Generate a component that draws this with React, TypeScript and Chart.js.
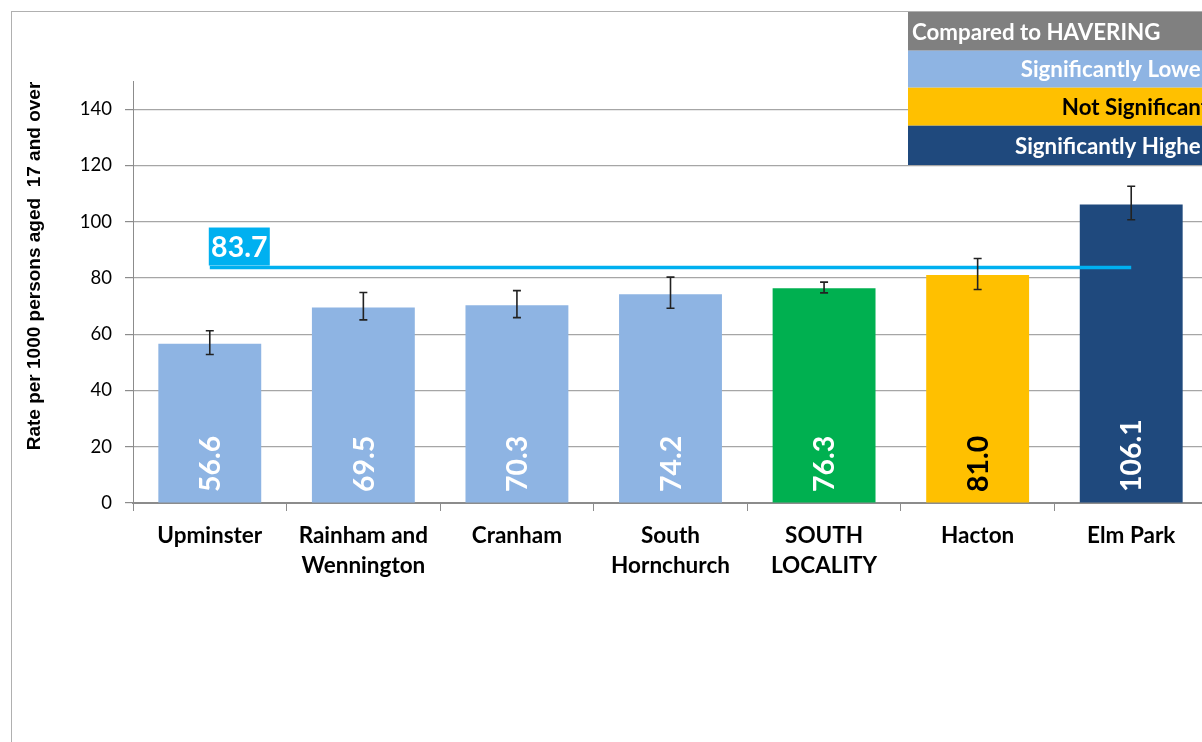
import React, { useEffect, useRef } from "react";
import { Chart, registerables } from "chart.js";

Chart.register(...registerables);

const categories: string[][] = [
  ["Upminster"],
  ["Rainham and", "Wennington"],
  ["Cranham"],
  ["South", "Hornchurch"],
  ["SOUTH", "LOCALITY"],
  ["Hacton"],
  ["Elm Park"],
];
const rates: number[] = [56.6, 69.5, 70.3, 74.2, 76.3, 81.0, 106.1];
const ciLower: number[] = [52.8, 65.1, 65.9, 69.2, 74.7, 75.9, 100.7];
const ciUpper: number[] = [61.2, 74.8, 75.5, 80.3, 78.5, 86.9, 112.6];
const haveringRate = 83.7;
const yTicks: number[] = [0, 20, 40, 60, 80, 100, 120, 140];
const yTitle = "Rate per 1000 persons aged  17 and over";
const legendTitle = "Compared to HAVERING";
const legendItems: string[] = ["Significantly Lower", "Not Significant", "Significantly Higher"];

const barColors = ["#8EB4E3", "#8EB4E3", "#8EB4E3", "#8EB4E3", "#00B050", "#FFC000", "#1F497D"];
const labelColors = ["#FFFFFF", "#FFFFFF", "#FFFFFF", "#FFFFFF", "#FFFFFF", "#000000", "#FFFFFF"];
const legendColors = ["#8EB4E3", "#FFC000", "#1F497D"];
const legendTextColors = ["#FFFFFF", "#000000", "#FFFFFF"];

const W = 1230;
const H = 760;

const overlayPlugin = {
  id: "overlay",
  afterDatasetsDraw(chart: any) {
    const ctx = chart.ctx;
    const ys = chart.scales.y;
    const meta = chart.getDatasetMeta(0);
    ctx.save();
    // value labels
    ctx.font = "bold 28.5px Lato";
    ctx.textAlign = "left";
    ctx.textBaseline = "middle";
    meta.data.forEach((bar: any, i: number) => {
      ctx.save();
      ctx.translate(bar.x, ys.getPixelForValue(0) - 11);
      ctx.rotate(-Math.PI / 2);
      ctx.fillStyle = labelColors[i];
      ctx.fillText(rates[i].toFixed(1), 0, 1);
      ctx.restore();
    });
    // error bars
    ctx.strokeStyle = "#222222";
    ctx.lineWidth = 1.6;
    meta.data.forEach((bar: any, i: number) => {
      const yt = ys.getPixelForValue(ciUpper[i]);
      const yb = ys.getPixelForValue(ciLower[i]);
      ctx.beginPath();
      ctx.moveTo(bar.x, yt);
      ctx.lineTo(bar.x, yb);
      ctx.moveTo(bar.x - 4, yt);
      ctx.lineTo(bar.x + 4, yt);
      ctx.moveTo(bar.x - 4, yb);
      ctx.lineTo(bar.x + 4, yb);
      ctx.stroke();
    });
    // average label box
    const lineMeta = chart.getDatasetMeta(1);
    const p0 = lineMeta.data[0];
    const ly = ys.getPixelForValue(haveringRate);
    ctx.fillStyle = "#00B0F0";
    ctx.fillRect(p0.x - 1, ly - 40, 61, 38);
    ctx.fillStyle = "#FFFFFF";
    ctx.textAlign = "center";
    ctx.textBaseline = "middle";
    ctx.font = "bold 28.5px Lato";
    ctx.fillText(haveringRate.toFixed(1), p0.x + 29.5, ly - 20);
    ctx.restore();
  },
  afterDraw(chart: any) {
    const ctx = chart.ctx;
    ctx.save();
    // y axis title
    ctx.font = "bold 19px 'Liberation Sans'";
    ctx.fillStyle = "#000000";
    ctx.textAlign = "center";
    ctx.textBaseline = "middle";
    ctx.translate(23, 254);
    ctx.rotate(-Math.PI / 2);
    ctx.fillText(yTitle, 0, 0);
    ctx.restore();
    // legend box
    ctx.save();
    const x0 = 896;
    const x1 = 1212;
    const rows = [0, 38.7, 75.7, 113.7, 153];
    ctx.fillStyle = "#808080";
    ctx.fillRect(x0, rows[0], x1 - x0, rows[1] - rows[0]);
    legendColors.forEach((c, i) => {
      ctx.fillStyle = c;
      ctx.fillRect(x0, rows[i + 1], x1 - x0, rows[i + 2] - rows[i + 1]);
    });
    ctx.font = "bold 22.3px Lato";
    ctx.textBaseline = "middle";
    ctx.fillStyle = "#FFFFFF";
    ctx.textAlign = "left";
    ctx.fillText(legendTitle, 900, (rows[0] + rows[1]) / 2 + 1);
    ctx.textAlign = "right";
    legendItems.forEach((t, i) => {
      ctx.fillStyle = legendTextColors[i];
      ctx.fillText(t, 1197, (rows[i + 1] + rows[i + 2]) / 2 + 1);
    });
    ctx.restore();
  },
};

export default function App() {
  const ref = useRef<HTMLCanvasElement>(null);
  useEffect(() => {
    if (!ref.current) return;
    const chart = new Chart(ref.current, {
      type: "bar",
      data: {
        labels: categories,
        datasets: [
          {
            type: "bar",
            data: rates,
            backgroundColor: barColors,
            categoryPercentage: 1,
            barPercentage: 0.67,
            order: 2,
          },
          {
            type: "line",
            data: rates.map(() => haveringRate),
            borderColor: "#00B0F0",
            borderWidth: 3.5,
            pointRadius: 0,
            fill: false,
            order: 1,
          } as any,
        ],
      },
      options: {
        responsive: false,
        animation: false,
        devicePixelRatio: 1,
        layout: { padding: { left: 0, top: 69, right: 34, bottom: 0 } },
        plugins: {
          legend: { display: false },
          tooltip: { enabled: false },
          title: { display: false },
        },
        scales: {
          x: {
            offset: true,
            grid: {
              offset: true,
              drawOnChartArea: false,
              drawTicks: true,
              tickLength: 8,
              tickColor: "#8c8c8c",
              tickWidth: 1,
            },
            border: { color: "#8c8c8c", width: 2 },
            ticks: {
              color: "#000000",
              font: { family: "Lato", weight: "bold", size: 22.5, lineHeight: 1.33 },
              padding: 10,
              maxRotation: 0,
              autoSkip: false,
            },
            afterFit: (s: any) => {
              s.height = H - 491;
            },
          },
          y: {
            min: 0,
            max: 150,
            afterBuildTicks: (s: any) => {
              s.ticks = yTicks.map((v) => ({ value: v }));
            },
            grid: {
              color: "#a6a6a6",
              lineWidth: 1.2,
              tickLength: 8,
              tickColor: "#8c8c8c",
            },
            border: { color: "#8c8c8c", width: 1 },
            ticks: {
              color: "#000000",
              font: { family: "Lato", size: 18.5 },
              padding: 13,
            },
            afterFit: (s: any) => {
              s.width = 121;
            },
          },
        },
      },
      plugins: [overlayPlugin],
    });
    return () => chart.destroy();
  }, []);

  return (
    <div
      style={{
        position: "fixed",
        left: 0,
        top: 0,
        width: 1202,
        height: 742,
        overflow: "hidden",
        background: "#fff",
      }}
    >
      <div
        style={{
          position: "absolute",
          left: 11,
          top: 11,
          width: W + 40,
          height: H + 40,
          border: "1px solid #b0b0b0",
          boxSizing: "border-box",
        }}
      >
        <canvas ref={ref} width={W} height={H} style={{ display: "block", width: W, height: H }} />
      </div>
    </div>
  );
}
